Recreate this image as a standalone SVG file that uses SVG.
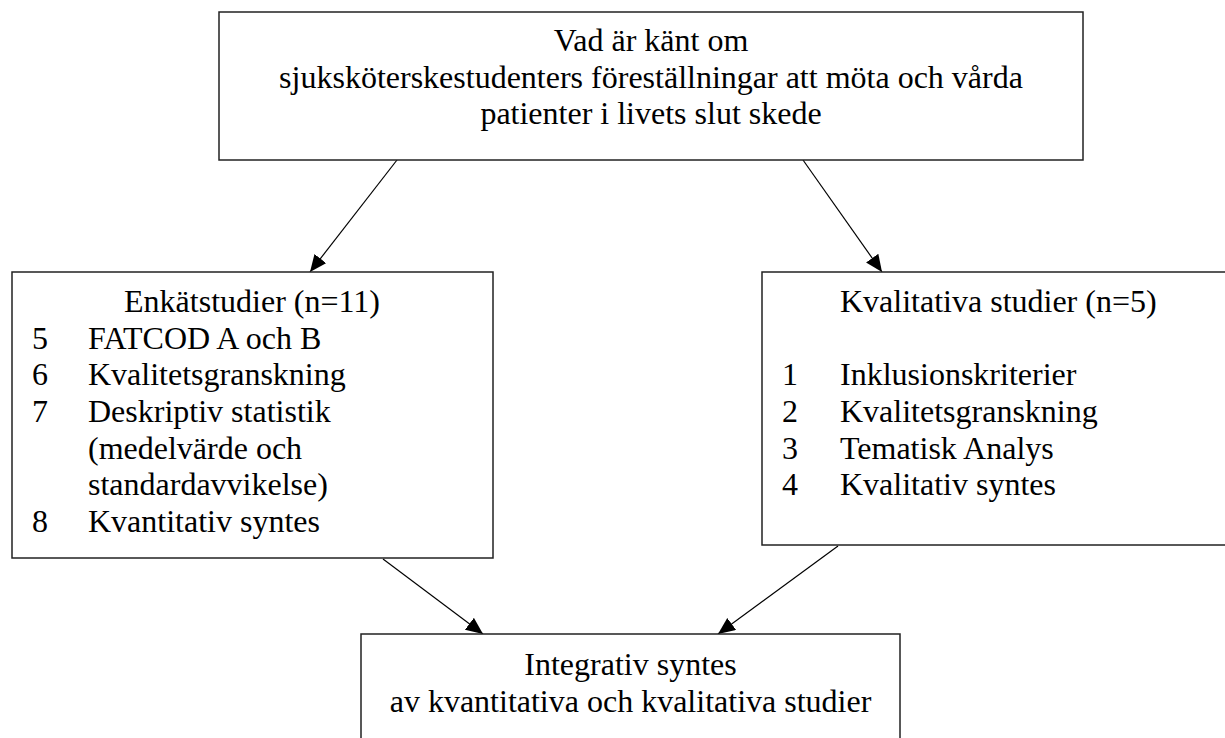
<svg xmlns="http://www.w3.org/2000/svg" width="1225" height="738" viewBox="0 0 1225 738">
<style>
.box{fill:#fff;stroke:#222;stroke-width:1.5}
text{font-family:'Liberation Serif','DejaVu Serif',serif;font-size:32px;fill:#000}
.c{text-anchor:middle}
.conn{stroke:#000;stroke-width:1.2;fill:none}
</style>
<defs>
<marker id="ah" markerUnits="userSpaceOnUse" markerWidth="18" markerHeight="16" refX="17" refY="7.5" orient="auto">
<path d="M0,0 L17,7.5 L0,15 z" fill="#000"/>
</marker>
</defs>
<rect width="1225" height="738" fill="#fff"/>
<g id="connectors">
<line class="conn" x1="397" y1="160" x2="310" y2="272" marker-end="url(#ah)"/>
<line class="conn" x1="803" y1="160" x2="882" y2="272" marker-end="url(#ah)"/>
<line class="conn" x1="383" y1="559" x2="483" y2="634" marker-end="url(#ah)"/>
<line class="conn" x1="838" y1="546" x2="718" y2="634" marker-end="url(#ah)"/>
</g>
<g id="node-top" font-family="Liberation Serif, DejaVu Serif, serif">
<rect class="box" x="219" y="12" width="864" height="148"/>
<text class="c" x="651" y="51">Vad är känt om</text>
<text class="c" x="651" y="87.7">sjuksköterskestudenters föreställningar att möta och vårda</text>
<text class="c" x="651" y="124.4">patienter i livets slut skede</text>
</g>
<g id="node-enkat" font-family="Liberation Serif, DejaVu Serif, serif">
<rect class="box" x="12" y="272" width="481" height="286"/>
<text class="c" x="252" y="312">Enkätstudier (n=11)</text>
<text x="32" y="348.7">5</text><text x="88" y="348.7">FATCOD A och B</text>
<text x="32" y="385.3">6</text><text x="88" y="385.3">Kvalitetsgranskning</text>
<text x="32" y="422">7</text><text x="88" y="422">Deskriptiv statistik</text>
<text x="88" y="458.7">(medelvärde och</text>
<text x="88" y="495.3">standardavvikelse)</text>
<text x="32" y="532">8</text><text x="88" y="532">Kvantitativ syntes</text>
</g>
<g id="node-kval" font-family="Liberation Serif, DejaVu Serif, serif">
<rect class="box" x="762" y="272" width="480" height="273"/>
<text x="840" y="312">Kvalitativa studier (n=5)</text>
<text x="782" y="385.3">1</text><text x="840" y="385.3">Inklusionskriterier</text>
<text x="782" y="422">2</text><text x="840" y="422">Kvalitetsgranskning</text>
<text x="782" y="458.7">3</text><text x="840" y="458.7">Tematisk Analys</text>
<text x="782" y="495.3">4</text><text x="840" y="495.3">Kvalitativ syntes</text>
</g>
<g id="node-integrativ" font-family="Liberation Serif, DejaVu Serif, serif">
<rect class="box" x="361" y="634" width="539" height="120"/>
<text class="c" x="630.5" y="675">Integrativ syntes</text>
<text class="c" x="630.5" y="712">av kvantitativa och kvalitativa studier</text>
</g>
</svg>
